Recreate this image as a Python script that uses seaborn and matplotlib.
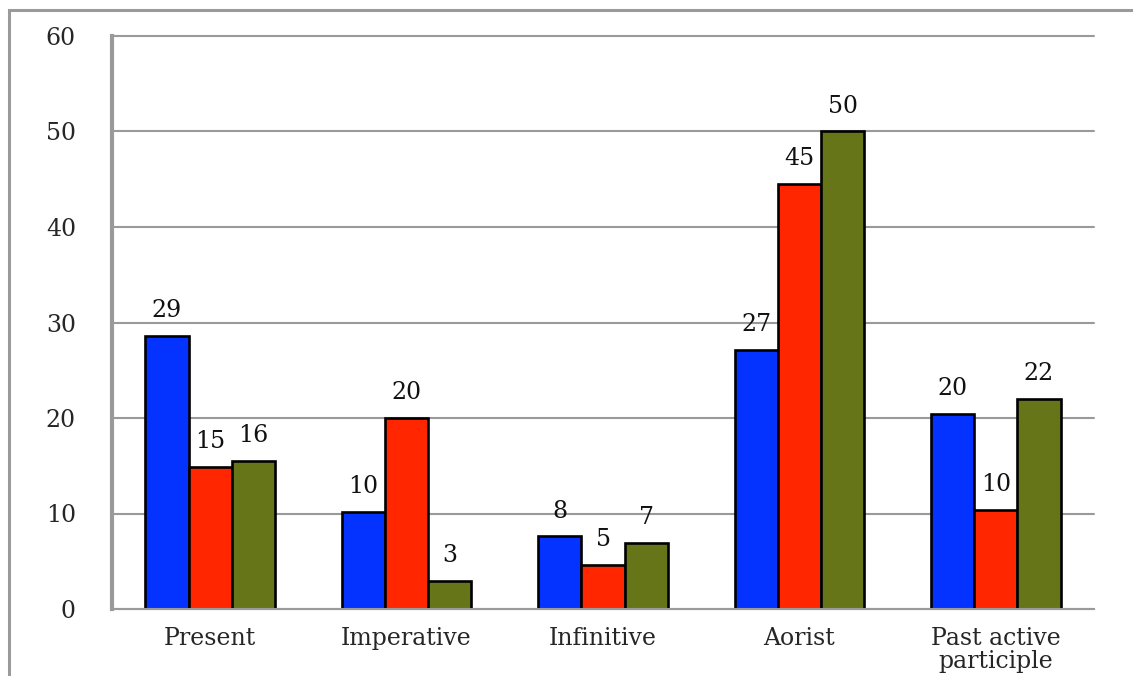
import matplotlib
matplotlib.use('agg')
import matplotlib.pyplot as plt
import matplotlib.patches as mpatches
import seaborn as sns
import pandas as pd

# data
categories = ['Present', 'Imperative', 'Infinitive', 'Aorist', 'Past active\nparticiple']
series_names = ['Series 1', 'Series 2', 'Series 3']
series1 = [28.6, 10.2, 7.6, 27.1, 20.4]
series2 = [14.9, 20.0, 4.6, 44.5, 10.4]
series3 = [15.5, 2.9, 6.9, 50.0, 22.0]
labels1 = ['29', '10', '8', '27', '20']
labels2 = ['15', '20', '5', '45', '10']
labels3 = ['16', '3', '7', '50', '22']
yticks = [0, 10, 20, 30, 40, 50, 60]

COLORS = ['#0433FF', '#FF2600', '#667518']
GRAY = '#9a9a9a'
FONT = ['DejaVu Serif']

sns.set_style('white')
plt.rcParams['font.family'] = FONT

rows = []
for name, vals in zip(series_names, [series1, series2, series3]):
    for cat, v in zip(categories, vals):
        rows.append({'category': cat, 'series': name, 'value': v})
df = pd.DataFrame(rows)

fig = plt.figure(figsize=(11.33, 6.76), dpi=100)
ax = fig.add_axes([112 / 1133, 1 - 609 / 676, (1094 - 112) / 1133, (609 - 36) / 676])

sns.barplot(data=df, x='category', y='value', hue='series', order=categories,
            hue_order=series_names, palette=COLORS, width=0.66, gap=0,
            edgecolor='black', linewidth=1.9, saturation=1, legend=False,
            errorbar=None, ax=ax)

for cont, labs in zip(ax.containers, [labels1, labels2, labels3]):
    ax.bar_label(cont, labels=labs, padding=10, fontsize=17, color='#111111')

ax.set_ylim(0, 60)
ax.set_yticks(yticks)
ax.set_xlim(-0.5, len(categories) - 0.5)
ax.set_xlabel('')
ax.set_ylabel('')

ax.set_axisbelow(True)
ax.yaxis.grid(True, color=GRAY, linewidth=1.5)
ax.xaxis.grid(False)
for gl in ax.get_ygridlines():
    gl.set_clip_on(False)

for side in ['top', 'right']:
    ax.spines[side].set_visible(False)
ax.spines['left'].set_color(GRAY)
ax.spines['left'].set_linewidth(3)
ax.spines['bottom'].set_color(GRAY)
ax.spines['bottom'].set_linewidth(1.5)

ax.tick_params(axis='y', length=8, width=1.5, color=GRAY, pad=18, labelsize=17)
ax.tick_params(axis='x', which='major', length=0, pad=13, labelsize=17)
for lab in ax.get_xticklabels():
    lab.set_linespacing(1.0)
ax.set_xticks([i - 0.5 for i in range(len(categories) + 1)], minor=True)
ax.tick_params(axis='x', which='minor', length=5, width=2, color=GRAY, direction='out')

# grey frame around the picture (left and top edges visible)
frame = mpatches.Rectangle((9 / 1133, -0.2), 1.3, 1.2 - 10 / 676, transform=fig.transFigure,
                           fill=False, edgecolor=GRAY, linewidth=2.2, clip_on=False)
fig.patches.append(frame)

fig.savefig('out.png', dpi=100)
